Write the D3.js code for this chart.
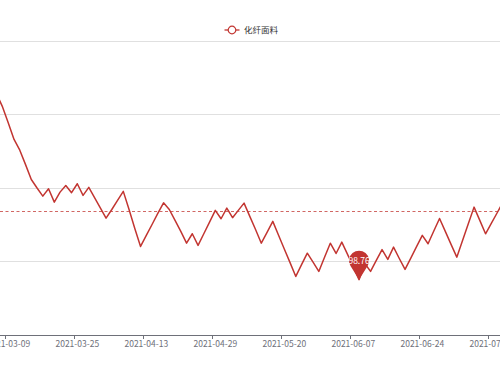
<!DOCTYPE html>
<html>
<head>
<meta charset="utf-8">
<script src="https://cdn.jsdelivr.net/npm/d3@7/dist/d3.min.js"></script>
<style>
  html, body { margin: 0; padding: 0; background: #fff; }
  svg { display: block; }
  text { font-family: "Microsoft YaHei", "Noto Sans CJK SC", sans-serif; }
</style>
</head>
<body>
<svg id="chart" width="500" height="375"></svg>
<script>
// ---- data ----
const seriesName = "化纤面料";
const dates = [
  "2021-03-04","2021-03-05","2021-03-08","2021-03-09","2021-03-10","2021-03-11","2021-03-12",
  "2021-03-15","2021-03-16","2021-03-17","2021-03-18","2021-03-19","2021-03-22","2021-03-23",
  "2021-03-24","2021-03-25","2021-03-26","2021-03-29","2021-03-30","2021-03-31","2021-04-01",
  "2021-04-02","2021-04-06","2021-04-07","2021-04-08","2021-04-09","2021-04-12","2021-04-13",
  "2021-04-14","2021-04-15","2021-04-16","2021-04-19","2021-04-20","2021-04-21","2021-04-22",
  "2021-04-23","2021-04-26","2021-04-27","2021-04-28","2021-04-29","2021-04-30","2021-05-06",
  "2021-05-07","2021-05-10","2021-05-11","2021-05-12","2021-05-13","2021-05-14","2021-05-17",
  "2021-05-18","2021-05-19","2021-05-20","2021-05-21","2021-05-24","2021-05-25","2021-05-26",
  "2021-05-27","2021-05-28","2021-05-31","2021-06-01","2021-06-02","2021-06-03","2021-06-04",
  "2021-06-07","2021-06-08","2021-06-09","2021-06-10","2021-06-11","2021-06-15","2021-06-16",
  "2021-06-17","2021-06-18","2021-06-21","2021-06-22","2021-06-23","2021-06-24","2021-06-25",
  "2021-06-28","2021-06-29","2021-06-30","2021-07-01","2021-07-02","2021-07-05","2021-07-06",
  "2021-07-07","2021-07-08","2021-07-09","2021-07-12","2021-07-13","2021-07-14"
];
const values = [
  111.76,111.35,110.50,109.41,108.29,107.56,106.58,
  105.57,104.99,104.44,104.94,104.03,104.71,105.16,
  104.67,105.28,104.49,105.03,104.34,103.64,102.94,
  103.53,104.15,104.76,103.53,102.24,101.02,101.77,
  102.51,103.26,103.98,103.53,102.79,102.04,101.24,
  101.88,101.09,101.88,102.67,103.47,102.90,103.62,
  102.97,103.47,103.96,103.06,102.17,101.24,101.97,
  102.72,101.78,100.85,99.92,98.98,99.78,100.56,
  99.95,99.32,100.29,101.24,100.54,101.31,100.48,
  99.62,98.76,99.86,99.32,100.07,100.80,100.14,
  100.97,100.20,99.46,100.22,101.00,101.77,101.20,
  102.07,102.92,102.04,101.16,100.29,101.43,102.56,
  103.69,102.79,101.88,102.58,103.29,104.01
];
const tickDates = ["2021-03-09","2021-03-25","2021-04-13","2021-04-29","2021-05-20","2021-06-07","2021-06-24","2021-07-12"];
const yTicks = [95, 100, 105, 110, 115];
const averageValue = 103.4;

// ---- chart ----
const color = "#c23531";
const svg = d3.select("#chart");

const step = 5.75;
const left0 = 8.3 - 3 * step - step / 2;
const x = d3.scaleBand().domain(dates).range([left0, left0 + dates.length * step]).padding(0);
const xc = d => x(d) + x.bandwidth() / 2;
const y = d3.scaleLinear().domain([95, 115]).range([335, 40.7]);

// grid lines
svg.append("g").selectAll("line").data(yTicks.filter(v => v !== 95)).join("line")
  .attr("x1", 0).attr("x2", 500)
  .attr("y1", d => Math.round(y(d)) + 0.5).attr("y2", d => Math.round(y(d)) + 0.5)
  .attr("stroke", "#e0e0e0").attr("stroke-width", 1);

// x axis
const axisY = Math.round(y(95)) + 0.5;
svg.append("line").attr("x1", 0).attr("x2", 500).attr("y1", axisY).attr("y2", axisY)
  .attr("stroke", "#6e7079").attr("stroke-width", 1);
const tg = svg.append("g");
tg.selectAll("line").data(tickDates).join("line")
  .attr("x1", d => Math.round(x(d)) + 0.5).attr("x2", d => Math.round(x(d)) + 0.5)
  .attr("y1", axisY).attr("y2", axisY + 3.5)
  .attr("stroke", "#6e7079").attr("stroke-width", 1);
tg.selectAll("text").data(tickDates).join("text")
  .attr("x", d => xc(d)).attr("y", axisY + 11.5)
  .attr("text-anchor", "middle").attr("font-size", 8.5).attr("fill", "#6e7079")
  .text(d => d);

// average mark line
const avgY = Math.floor(y(averageValue)) + 0.5;
svg.append("line").attr("x1", 0).attr("x2", 500).attr("y1", avgY).attr("y2", avgY)
  .attr("stroke", color).attr("stroke-width", 1).attr("stroke-dasharray", "3,2.5").attr("opacity", 0.75);

// series line
const line = d3.line().x((d, i) => xc(dates[i])).y(d => y(d));
svg.append("path").datum(values).attr("d", line)
  .attr("fill", "none").attr("stroke", color).attr("stroke-width", 1.5)
  .attr("stroke-linejoin", "round");

// min mark point (pin)
const minV = d3.min(values);
const minI = values.indexOf(minV);
const px = xc(dates[minI]), py = y(minV);
const pw = 20, ph = 29, r = pw / 2;
const cy = py - ph + r;
const d0 = ph - r;
const th = Math.acos(r / d0);
const lx = px - r * Math.sin(th), rx = px + r * Math.sin(th), ty = cy + r * Math.cos(th);
svg.append("path")
  .attr("d", `M${px},${py} L${lx},${ty} A${r},${r} 0 1 1 ${rx},${ty} Z`)
  .attr("fill", color);
svg.append("text").attr("x", px).attr("y", cy + 3)
  .attr("text-anchor", "middle").attr("font-size", 8.5).attr("fill", "#fff")
  .text(minV.toFixed(2));

// legend
const lg = svg.append("g").attr("transform", "translate(232,30)");
lg.append("line").attr("x1", -7.5).attr("x2", 7.5).attr("y1", 0).attr("y2", 0)
  .attr("stroke", color).attr("stroke-width", 1.3);
lg.append("circle").attr("r", 3.8).attr("fill", "#fff").attr("stroke", color).attr("stroke-width", 1.2);
lg.append("text").attr("x", 12).attr("y", 3).attr("font-size", 8.5).attr("fill", "#333")
  .text(seriesName);
</script>
</body>
</html>
